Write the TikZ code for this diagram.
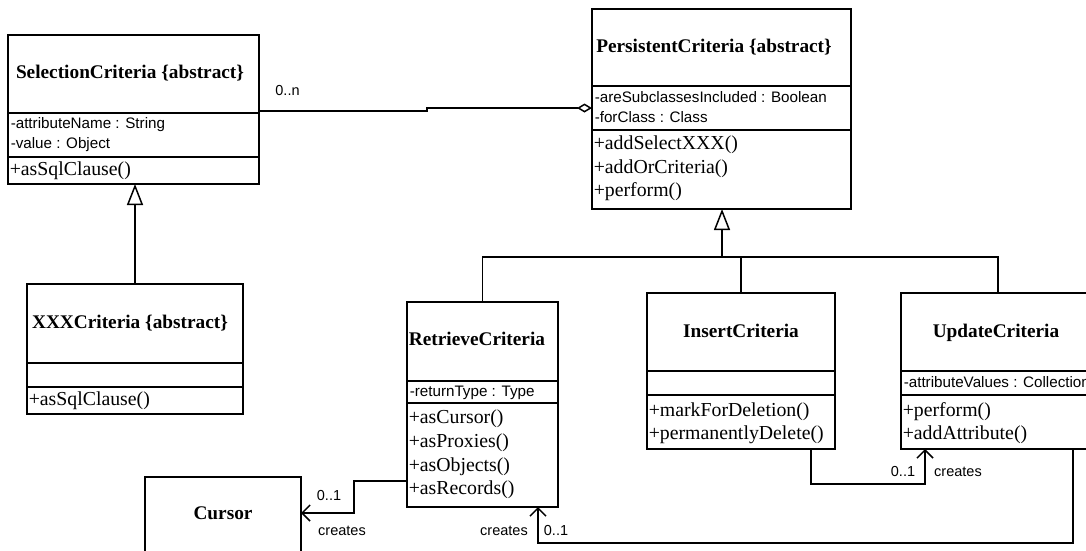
\documentclass[tikz,border=0pt]{standalone}
\usepackage{fontspec}
\setmainfont{Liberation Serif}
\setsansfont{Liberation Sans}
\usetikzlibrary{arrows.meta}
\begin{document}
\begin{tikzpicture}[x=1pt,y=-1pt, line width=1.5pt,
  cls/.style={draw, anchor=north west, inner sep=0pt, outer sep=0pt},
  nm/.style={font=\fontsize{19.3}{22}\selectfont\bfseries, inner sep=0pt, text height=13pt, text depth=4pt},
  attr/.style={font=\fontsize{15.2}{18}\selectfont\sffamily, anchor=west, inner sep=0pt, text height=11pt, text depth=3pt},
  mt/.style={font=\fontsize{19.8}{22}\selectfont, anchor=west, inner sep=0pt, text height=14pt, text depth=4.5pt},
  lbl/.style={font=\fontsize{14.5}{17}\selectfont\sffamily, inner sep=0pt, text height=10.5pt, text depth=3pt},
  gen/.style={-{Triangle[open, length=21pt, width=16pt, line width=1.5pt]}},
  nav/.style={-{Straight Barb[length=8pt, width=16pt, line width=1.5pt]}},
  agg/.style={{Diamond[open, length=15pt, width=9pt, line width=1.5pt]}-}
]
\useasboundingbox (0,0) rectangle (1086,550);
\clip (0,0) rectangle (1086,550);

% SelectionCriteria
\node[cls, minimum width=251pt, minimum height=149pt] (sc) at (8,35) {};
\draw (8,113) -- (259,113);
\draw (8,157) -- (259,157);
\node[nm] (scn) at (130,74) {SelectionCriteria \{abstract\}};
\node[attr] (sca1) at (10,124) {-attributeName : String};
\node[attr] (sca2) at (10,144) {-value : Object};
\node[mt] (scm1) at (9,171) {+asSqlClause()};

% PersistentCriteria
\node[cls, minimum width=259pt, minimum height=200pt] (pc) at (592,9) {};
\draw (592,86) -- (851,86);
\draw (592,130) -- (851,130);
\node[nm] (pcn) at (714,47.5) {PersistentCriteria \{abstract\}};
\node[attr] (pca1) at (594,98) {-areSubclassesIncluded : Boolean};
\node[attr] (pca2) at (594,118) {-forClass : Class};
\node[mt] (pcm1) at (593,145) {+addSelectXXX()};
\node[mt] (pcm2) at (593,168.5) {+addOrCriteria()};
\node[mt] (pcm3) at (593,192) {+perform()};

% XXXCriteria
\node[cls, minimum width=216pt, minimum height=130pt] (xxx) at (27,284) {};
\draw (27,363) -- (243,363);
\draw (27,387) -- (243,387);
\node[nm] (xxxn) at (130,324) {XXXCriteria \{abstract\}};
\node[mt] (xxxm1) at (28,400.5) {+asSqlClause()};

% RetrieveCriteria
\node[cls, minimum width=151pt, minimum height=205pt] (ret) at (407,302) {};
\draw (407,381) -- (558,381);
\draw (407,403) -- (558,403);
\node[nm] (retn) at (477,341) {RetrieveCriteria};
\node[attr] (reta1) at (409,392) {-returnType : Type};
\node[mt] (retm1) at (408,419) {+asCursor()};
\node[mt] (retm2) at (408,443) {+asProxies()};
\node[mt] (retm3) at (408,467) {+asObjects()};
\node[mt] (retm4) at (408,490) {+asRecords()};

% InsertCriteria
\node[cls, minimum width=188pt, minimum height=156pt] (ins) at (647,293) {};
\draw (647,371) -- (835,371);
\draw (647,395) -- (835,395);
\node[nm] (insn) at (741,333) {InsertCriteria};
\node[mt] (insm1) at (648,412) {+markForDeletion()};
\node[mt] (insm2) at (648,435) {+permanentlyDelete()};

% UpdateCriteria
\node[cls, minimum width=194pt, minimum height=156pt] (upd) at (901,293) {};
\draw (901,371) -- (1095,371);
\draw (901,395) -- (1095,395);
\node[nm] (updn) at (996,333) {UpdateCriteria};
\node[attr] (upda1) at (903,383) {-attributeValues : Collection};
\node[mt] (updm1) at (902,412) {+perform()};
\node[mt] (updm2) at (902,435) {+addAttribute()};

% Cursor
\node[cls, minimum width=156pt, minimum height=76pt] (cur) at (145,477) {};
\node[nm] (curn) at (223,515) {Cursor};

% Generalizations
\draw[gen] (xxx.north) -- (xxx.north |- sc.south);
\coordinate (bus) at (722,257);
\draw[gen] (bus) -- (bus |- pc.south);
\draw (ret.north) |- (upd.north |- bus) -- (upd.north);
\draw (ins.north) -- (ins.north |- bus);

% Aggregation
\coordinate (j1) at (427,111);
\coordinate (j2) at (427,108);
\draw[agg] (pc.west |- j2) -- (j2) -- (j1) -- (sc.east |- j1);
\node[lbl] (l0n) at (287.5,92) {0..n};

% Retrieve -> Cursor
\coordinate (c1) at (354,481);
\coordinate (c2) at (354,513);
\draw[nav] (ret.west |- c1) -- (c1) -- (c2) -- (cur.east |- c2);
\node[lbl] (lc1) at (329,497) {0..1};
\node[lbl] (lc2) at (342,532) {creates};

% Insert -> Update
\coordinate (i1) at (811,484);
\coordinate (i2) at (925,484);
\draw[nav] (ins.south -| i1) -- (i1) -- (i2) -- (upd.south -| i2);
\node[lbl] (li1) at (903,473) {0..1};
\node[lbl] (li2) at (958,473) {creates};

% Update -> Retrieve
\coordinate (u1) at (1073,543);
\coordinate (u2) at (538,543);
\draw[nav] (upd.south -| u1) -- (u1) -- (u2) -- (ret.south -| u2);
\node[lbl] (lu1) at (504,532) {creates};
\node[lbl] (lu2) at (556,532) {0..1};
\end{tikzpicture}
\end{document}
